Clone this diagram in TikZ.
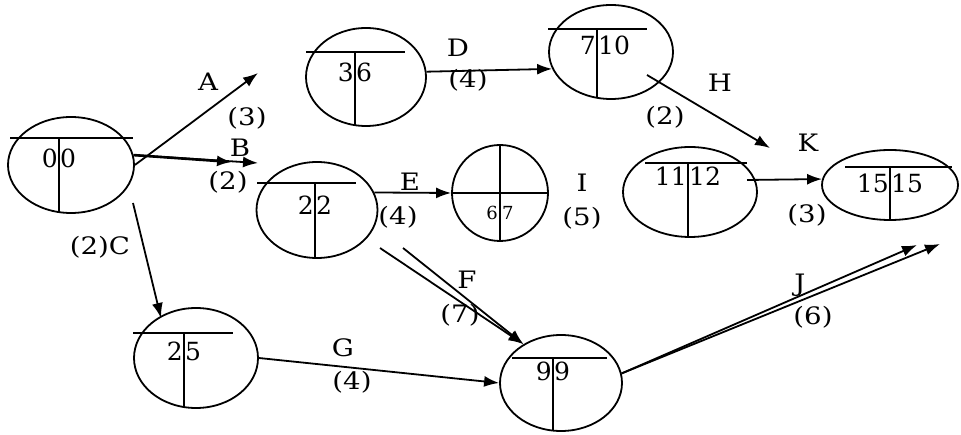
\documentclass[tikz,border=0pt]{standalone}
\usepackage{fontspec}
\setmainfont{DejaVu Serif}
\newfontfamily\lblfont{DejaVu Serif}[FakeStretch=1.15]
\usetikzlibrary{arrows.meta, shapes.geometric}

\begin{document}
\begin{tikzpicture}[
    x=1pt, y=-1pt,
    ev/.style={draw, ellipse, line width=1.8pt, inner sep=0pt},
    sep/.style={line width=1.5pt},
    num/.style={font=\fontsize{25}{26}\selectfont, inner sep=1pt},
    smallnum/.style={font=\fontsize{18}{19}\selectfont, inner sep=2pt},
    lbl/.style={font=\lblfont\fontsize{24}{26}\selectfont, inner sep=0pt},
    arr/.style={-{Latex[length=15pt, width=11pt]}, line width=1.8pt}
]
    \useasboundingbox (0,0) rectangle (961,435);

    % events
    \node[ev, minimum width=126pt, minimum height=96pt] (n00) at (71,165) {};
    \draw[sep] (10,138) -- (133,138) (59,138) -- (59,212);
    \node[num, anchor=base east] (n00a) at (59,168) {0};
    \node[num, anchor=base west] (n00b) at (59,168) {0};

    \node[ev, minimum width=120pt, minimum height=98pt] (n36) at (366,77) {};
    \draw[sep] (306,52) -- (405,52) (355,52) -- (355,125);
    \node[num, anchor=base east] (n36a) at (355,82) {3};
    \node[num, anchor=base west] (n36b) at (355,82) {6};

    \node[ev, minimum width=124pt, minimum height=94pt] (n710) at (611,52) {};
    \draw[sep] (548,29) -- (647,29) (597,29) -- (597,98);
    \node[num, anchor=base east] (n710a) at (597,55) {7};
    \node[num, anchor=base west] (n710b) at (597,55) {10};

    \node[ev, minimum width=121pt, minimum height=96pt] (n22) at (317,210) {};
    \draw[sep] (257,183) -- (356,183) (315,183) -- (315,257);
    \node[num, anchor=base east] (n22a) at (315,215) {2};
    \node[num, anchor=base west] (n22b) at (315,215) {2};

    \node[ev, minimum width=96pt, minimum height=96pt] (n67) at (500,193) {};
    \draw[sep] (452,193) -- (548,193) (500,145) -- (500,241);
    \node[smallnum, anchor=base east] (n67a) at (500,220) {6};
    \node[smallnum, anchor=base west] (n67b) at (500,220) {7};

    \node[ev, minimum width=134pt, minimum height=90pt] (n1112) at (690,192) {};
    \draw[sep] (645,163) -- (747,163) (688,163) -- (688,237);
    \node[num, anchor=base east] (n1112a) at (688,186) {11};
    \node[num, anchor=base west] (n1112b) at (688,186) {12};

    \node[ev, minimum width=136pt, minimum height=70pt] (n1515) at (890,185) {};
    \draw[sep] (845,167) -- (952,167) (890,167) -- (890,220);
    \node[num, anchor=base east] (n1515a) at (890,193) {15};
    \node[num, anchor=base west] (n1515b) at (890,193) {15};

    \node[ev, minimum width=124pt, minimum height=100pt] (n25) at (196,358) {};
    \draw[sep] (133,333) -- (233,333) (184,333) -- (184,407);
    \node[num, anchor=base east] (n25a) at (184,361) {2};
    \node[num, anchor=base west] (n25b) at (184,361) {5};

    \node[ev, minimum width=122pt, minimum height=96pt] (n99) at (561,383) {};
    \draw[sep] (512,358) -- (607,358) (553,358) -- (553,431);
    \node[num, anchor=base east] (n99a) at (553,381) {9};
    \node[num, anchor=base west] (n99b) at (553,381) {9};

    % loose ends
    \coordinate (tA) at (258,73);
    \coordinate (tB1) at (232,162);
    \coordinate (tB2) at (258,163);
    \coordinate (sC) at (133,203);
    \coordinate (tC) at (161,318);
    \coordinate (sF1) at (380,248);
    \coordinate (sF2) at (403,248);
    \coordinate (sH) at (647,75);
    \coordinate (tH) at (770,148);
    \coordinate (sK) at (747,180);
    \coordinate (tJ1) at (917,245);
    \coordinate (tJ2) at (940,244);

    % activities
    \draw[arr] (n00.east) -- (tA);
    \draw[arr, line width=2.6pt] (n00.9) -- (tB1);
    \draw[arr] (n00.9) -- (tB2);
    \draw[arr] (sC) -- (tC);
    \draw[arr] (n36.5) -- (n710.196);
    \draw[arr] (n22.17) -- (n67.west);
    \draw[arr] (sF1) -- (n99.134);
    \draw[arr] (sF2) -- (n99.134);
    \draw[arr] (n25.east) -- (n99.west);
    \draw[arr] (sH) -- (tH);
    \draw[arr] (sK) -- (n1515.175);
    \draw[arr] (n99.9) -- (tJ1);
    \draw[arr] (n99.9) -- (tJ2);

    % labels
    \node[lbl] (lA) at (208,82) {A};
    \node[lbl] (dA) at (247,118) {(3)};
    \node[lbl] (lB) at (240,148) {B};
    \node[lbl] (dB) at (228,182) {(2)};
    \node[lbl] (lC) at (100,247) {(2)C};
    \node[lbl] (lD) at (458,48) {D};
    \node[lbl] (dD) at (468,80) {(4)};
    \node[lbl] (lE) at (410,182) {E};
    \node[lbl] (dE) at (398,217) {(4)};
    \node[lbl] (lF) at (467,280) {F};
    \node[lbl] (dF) at (460,315) {(7)};
    \node[lbl] (lG) at (343,348) {G};
    \node[lbl] (dG) at (352,382) {(4)};
    \node[lbl] (lH) at (720,83) {H};
    \node[lbl] (dH) at (665,117) {(2)};
    \node[lbl] (lI) at (582,183) {I};
    \node[lbl] (dI) at (582,218) {(5)};
    \node[lbl] (lK) at (808,143) {K};
    \node[lbl] (dK) at (807,215) {(3)};
    \node[lbl] (lJ) at (800,285) {J};
    \node[lbl] (dJ) at (813,317) {(6)};
\end{tikzpicture}
\end{document}
